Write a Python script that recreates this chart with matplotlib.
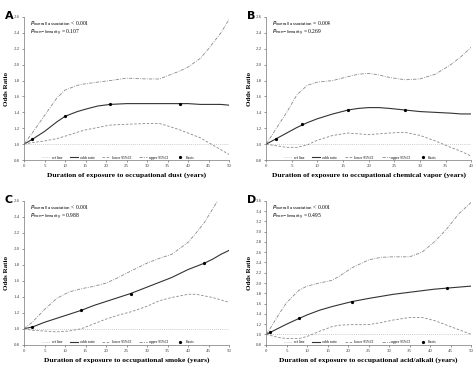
import numpy as np
import matplotlib
matplotlib.use("Agg")
import matplotlib.pyplot as plt

# ---- data ----
# Panel A: dust
a_x = [0, 2, 5, 8, 10, 13, 15, 18, 21, 25, 30, 33, 35, 38, 40, 43, 45, 48, 50]
a_or = [1.0, 1.06, 1.16, 1.28, 1.35, 1.41, 1.44, 1.48, 1.50, 1.51, 1.51, 1.51, 1.51, 1.51, 1.51, 1.50, 1.50, 1.50, 1.49]
a_up = [1.0, 1.14, 1.36, 1.58, 1.68, 1.74, 1.76, 1.78, 1.80, 1.83, 1.82, 1.82, 1.86, 1.92, 1.97, 2.08, 2.20, 2.40, 2.57]
a_lo = [1.0, 1.02, 1.04, 1.07, 1.10, 1.15, 1.18, 1.21, 1.24, 1.25, 1.26, 1.26, 1.23, 1.18, 1.14, 1.08, 1.02, 0.93, 0.87]
a_knots_x = [2, 10, 21, 38]
a_knots_y = [1.06, 1.35, 1.50, 1.51]

# Panel B: chemical vapor
b_x = [0, 2, 4, 6, 8, 10, 13, 16, 18, 20, 22, 24, 27, 30, 33, 36, 38, 40]
b_or = [1.0, 1.07, 1.14, 1.21, 1.27, 1.32, 1.38, 1.43, 1.45, 1.46, 1.46, 1.45, 1.43, 1.41, 1.40, 1.39, 1.38, 1.38]
b_up = [1.0, 1.20, 1.40, 1.62, 1.74, 1.78, 1.80, 1.85, 1.88, 1.89, 1.87, 1.84, 1.81, 1.82, 1.88, 2.00, 2.10, 2.22]
b_lo = [1.0, 0.98, 0.96, 0.96, 0.99, 1.05, 1.11, 1.14, 1.13, 1.12, 1.13, 1.14, 1.15, 1.11, 1.04, 0.96, 0.91, 0.85]
b_knots_x = [2, 7, 16, 27]
b_knots_y = [1.07, 1.25, 1.43, 1.43]

# Panel C: smoke
c_x = [0, 2, 5, 8, 11, 14, 17, 20, 23, 26, 30, 33, 36, 40, 42, 44, 46, 48, 50]
c_or = [1.0, 1.02, 1.08, 1.13, 1.18, 1.23, 1.29, 1.34, 1.39, 1.44, 1.52, 1.58, 1.64, 1.74, 1.78, 1.82, 1.87, 1.93, 1.98]
c_up = [1.0, 1.08, 1.24, 1.38, 1.46, 1.50, 1.53, 1.57, 1.64, 1.72, 1.82, 1.88, 1.93, 2.08, 2.20, 2.33, 2.50, 2.66, 2.85]
c_lo = [1.0, 0.98, 0.97, 0.96, 0.97, 1.0, 1.06, 1.12, 1.17, 1.21, 1.28, 1.35, 1.39, 1.43, 1.43, 1.41, 1.39, 1.36, 1.33]
c_knots_x = [2, 14, 26, 44]
c_knots_y = [1.02, 1.23, 1.44, 1.82]

# Panel D: acid/alkali
d_x = [0, 1, 3, 5, 8, 10, 13, 16, 18, 21, 25, 28, 31, 35, 38, 41, 44, 47, 50]
d_or = [1.0, 1.04, 1.12, 1.20, 1.31, 1.38, 1.47, 1.54, 1.58, 1.64, 1.70, 1.74, 1.78, 1.82, 1.85, 1.88, 1.90, 1.92, 1.94]
d_up = [1.0, 1.12, 1.38, 1.62, 1.86, 1.94, 2.00, 2.05, 2.14, 2.30, 2.45, 2.50, 2.51, 2.51, 2.60, 2.80, 3.05, 3.35, 3.57]
d_lo = [1.0, 0.98, 0.94, 0.92, 0.92, 0.96, 1.06, 1.15, 1.18, 1.19, 1.19, 1.23, 1.28, 1.33, 1.33, 1.27, 1.18, 1.09, 1.0]
d_knots_x = [1, 8, 21, 44]
d_knots_y = [1.04, 1.31, 1.64, 1.90]

labels = ["A", "B", "C", "D"]
xlabels = [
    "Duration of exposure to occupational dust (years)",
    "Duration of exposure to occupational chemical vapor (years)",
    "Duration of exposure to occupational smoke (years)",
    "Duration of exposure to occupational acid/alkali (years)",
]
p_overall = ["< 0.001", "= 0.004", "< 0.001", "< 0.001"]
p_nonlin = ["= 0.107", "= 0.269", "= 0.988", "= 0.495"]
xmax = [50, 40, 50, 50]
ymax = [2.6, 2.6, 2.6, 3.6]

panels = [
    (a_x, a_or, a_up, a_lo, a_knots_x, a_knots_y),
    (b_x, b_or, b_up, b_lo, b_knots_x, b_knots_y),
    (c_x, c_or, c_up, c_lo, c_knots_x, c_knots_y),
    (d_x, d_or, d_up, d_lo, d_knots_x, d_knots_y),
]

# axes boxes in figure fractions [left, bottom, width, height]
boxes = [
    [0.0503, 0.565, 0.430, 0.389],
    [0.558, 0.565, 0.430, 0.389],
    [0.0503, 0.0634, 0.430, 0.391],
    [0.558, 0.0634, 0.430, 0.391],
]

serif = "Liberation Serif"
fig = plt.figure(figsize=(4.77, 3.68), dpi=100)

for i, (x, orr, up, lo, kx, ky) in enumerate(panels):
    ax = fig.add_axes(boxes[i])
    ax.axhline(1.0, color="#bbbbbb", lw=0.6, ls=(0, (1, 1.5)), label="ref line")
    ax.plot(x, orr, color="#333333", lw=0.8, label="odds ratio")
    ax.plot(x, lo, color="#888888", lw=0.6, ls=(0, (3, 2)), label="lower 95%CI")
    ax.plot(x, up, color="#888888", lw=0.6, ls=(0, (4, 1.5, 1, 1.5)), label="upper 95%CI")
    ax.plot(kx, ky, "o", color="black", ms=1.3, ls="none", label="Knots")

    ax.set_xlim(0, xmax[i])
    ax.set_ylim(0.8, ymax[i])
    ax.set_xticks(np.arange(0, xmax[i] + 1, 5))
    ax.set_yticks(np.round(np.arange(0.8, ymax[i] + 0.01, 0.2), 1))
    ax.yaxis.set_major_formatter(matplotlib.ticker.FormatStrFormatter("%.1f"))
    ax.tick_params(labelsize=3.5, length=1.5, width=0.4, pad=1.5, colors="#444444")
    for s in ["top", "right"]:
        ax.spines[s].set_visible(False)
    for s in ["left", "bottom"]:
        ax.spines[s].set_linewidth(0.5)
        ax.spines[s].set_color("#777777")
    for t in ax.get_xticklabels() + ax.get_yticklabels():
        t.set_family(serif)

    ax.set_xlabel(xlabels[i], family=serif, fontweight="bold", fontsize=5.4, labelpad=3)
    ax.set_ylabel("Odds Ratio", family=serif, fontweight="bold", fontsize=5, labelpad=3)

    ax.text(0.03, 0.985, r"$P_{\mathrm{overall\ association}}$ " + p_overall[i],
            transform=ax.transAxes, fontsize=4, family=serif, va="top", ha="left")
    ax.text(0.03, 0.925, r"$P_{\mathrm{non\!-\!linearity}}$ " + p_nonlin[i],
            transform=ax.transAxes, fontsize=4, family=serif, va="top", ha="left")

    ax.legend(loc="lower center", bbox_to_anchor=(0.46, -0.02), ncol=5, frameon=False,
              handlelength=2.2, handletextpad=0.5, columnspacing=2.2,
              prop={"family": serif, "size": 2.6})

    fig.text(boxes[i][0] - 0.04, boxes[i][1] + boxes[i][3] + 0.003, labels[i],
             fontsize=8, fontweight="bold", family="DejaVu Sans", va="center", ha="left")

fig.savefig("out.png", dpi=100)
